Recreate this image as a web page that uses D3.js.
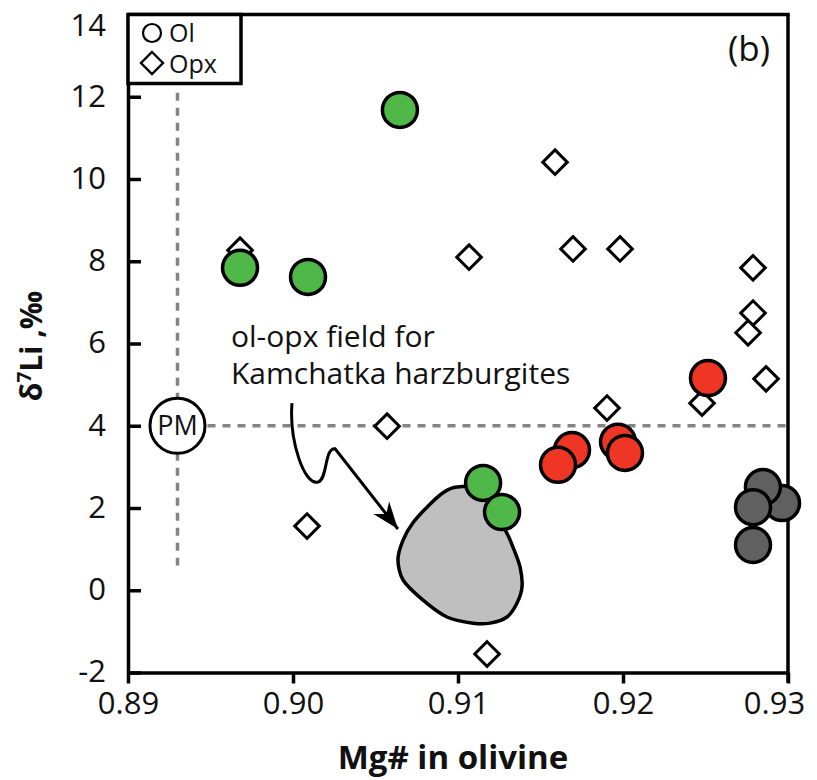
<!DOCTYPE html>
<html>
<head>
<meta charset="utf-8">
<script src="https://cdn.jsdelivr.net/npm/d3@7"></script>
<style>
  html, body { margin: 0; padding: 0; background: #fff; }
  svg { display: block; font-family: "Open Sans", "Noto Sans", sans-serif; }
</style>
</head>
<body>
<svg id="chart" width="817" height="780"></svg>
<script>
// ---------------- DATA ----------------
const xTickValues = [0.89, 0.90, 0.91, 0.92, 0.93];
const xTickLabels = ["0.89", "0.90", "0.91", "0.92", "0.93"];
const yTickValues = [-2, 0, 2, 4, 6, 8, 10, 12, 14];
const yTickLabels = ["-2", "0", "2", "4", "6", "8", "10", "12", "14"];

// Opx (open diamonds)
const opxMg   = [0.89679, 0.91067, 0.91588, 0.91697, 0.91982, 0.92788, 0.92788, 0.92758, 0.92867, 0.92479, 0.91903, 0.90570, 0.90085, 0.91176];
const opxLi   = [8.27,    8.10,    10.41,   8.30,    8.30,    7.84,    6.74,    6.26,    5.14,    4.55,    4.43,    3.99,    1.56,    -1.55];

// Ol — green group
const olGreenMg = [0.90648, 0.89679, 0.90091, 0.91152, 0.91267];
const olGreenLi = [11.68,   7.84,    7.62,    2.61,    1.90];
// Ol — red group
const olRedMg = [0.92515, 0.91691, 0.91606, 0.91970, 0.92012];
const olRedLi = [5.16,    3.41,    3.05,    3.61,    3.34];
// Ol — dark grey group
const olGreyMg = [0.92964, 0.92848, 0.92788, 0.92788];
const olGreyLi = [2.12,    2.51,    2.02,    1.10];

// Primitive mantle reference
const pmMg = 0.893, pmLi = 4.0;

// ol-opx field for Kamchatka harzburgites (outline, data units)
const fieldMg = [0.90994, 0.91121, 0.91285, 0.91333, 0.91376, 0.91388, 0.91358, 0.91297, 0.91194, 0.91091, 0.90933, 0.90788, 0.90667, 0.90636, 0.90667, 0.90727, 0.90812, 0.90909];
const fieldLi = [2.51,    2.44,    1.47,    1.05,    0.57,    0.08,    -0.31,   -0.65,   -0.80,   -0.80,   -0.65,   -0.24,   0.25,    0.74,    1.22,    1.64,    2.02,    2.37];

// Annotation arrow (data units)
const arrowMg = [0.89994, 0.89976, 0.90067, 0.90152, 0.90212, 0.90188, 0.90255, 0.90636];
const arrowLi = [4.55,    3.65,    2.54,    2.63,    2.71,    3.46,    3.44,    1.49];

// ---------------- CHART ----------------
const svg = d3.select("#chart");
const x = d3.scaleLinear().domain([0.89, 0.93]).range([128, 788]);
const y = d3.scaleLinear().domain([-2, 14]).range([672.5, 14.5]);

const axisW = 3.5;
const ink = "#111";

// defs: arrowhead
svg.append("defs").append("marker")
  .attr("id", "ah")
  .attr("markerUnits", "userSpaceOnUse")
  .attr("viewBox", "-30 -12 32 24")
  .attr("refX", 0).attr("refY", 0)
  .attr("markerWidth", 32).attr("markerHeight", 24)
  .attr("orient", "auto")
  .append("path")
  .attr("d", "M0,0 L-27,-10 L-19,0 L-27,10 Z")
  .attr("fill", "#000");

// Dashed reference lines
svg.append("line")
  .attr("x1", x(pmMg)).attr("x2", x(pmMg))
  .attr("y1", y(12.1)).attr("y2", y(0.6))
  .attr("stroke", "#848484").attr("stroke-width", 3.5)
  .attr("stroke-dasharray", "8,7");
svg.append("line")
  .attr("x1", x(pmMg)).attr("x2", x(0.93))
  .attr("y1", y(pmLi)).attr("y2", y(pmLi))
  .attr("stroke", "#848484").attr("stroke-width", 3.5)
  .attr("stroke-dasharray", "8,7");

// Field polygon
const fieldPts = fieldMg.map((m, i) => [x(m), y(fieldLi[i])]);
svg.append("path")
  .attr("d", d3.line().curve(d3.curveCardinalClosed.tension(0.2))(fieldPts))
  .attr("fill", "#bfbfbf").attr("stroke", "#000").attr("stroke-width", 3.5);

// Arrow
const ap = arrowMg.map((m, i) => [x(m), y(arrowLi[i])]);
svg.append("path")
  .attr("d", `M${ap[0]} C${ap[1]} ${ap[2]} ${ap[3]} C${ap[4]} ${ap[5]} ${ap[6]} L${ap[7]}`)
  .attr("fill", "none").attr("stroke", "#000").attr("stroke-width", 3)
  .attr("marker-end", "url(#ah)");

// Annotation text
const ann = svg.append("text").attr("font-size", 30).attr("fill", ink);
ann.append("tspan").attr("x", 231).attr("y", 347).text("ol-opx field for");
ann.append("tspan").attr("x", 231).attr("y", 384).text("Kamchatka harzburgites");

// Axes
const gx = svg.append("g").attr("transform", `translate(0,${y(-2)})`)
  .call(d3.axisBottom(x).tickValues(xTickValues).tickFormat((d, i) => xTickLabels[i]).tickSize(11).tickSizeOuter(0));
const gy = svg.append("g").attr("transform", `translate(${x(0.89)},0)`)
  .call(d3.axisLeft(y).tickValues(yTickValues).tickFormat((d, i) => yTickLabels[i]).tickSize(-13).tickSizeOuter(0));
[gx, gy].forEach(g => {
  g.select(".domain").attr("stroke", "#000").attr("stroke-width", axisW);
  g.selectAll(".tick line").attr("stroke", "#000").attr("stroke-width", axisW);
  g.selectAll(".tick text").attr("font-size", 31).attr("fill", ink)
    .attr("font-family", '"Open Sans", sans-serif');
});
gx.selectAll(".tick text").attr("dy", "0.95em").attr("y", 12)
  .attr("x", (d, i) => i === xTickValues.length - 1 ? -14 : 0);
gy.selectAll(".tick text").attr("x", -22)
  .attr("dy", (d, i) => i === yTickValues.length - 1 ? "0.68em" : "0.3em");
gx.selectAll(".tick line").attr("stroke-linecap", "butt");

// top and right frame
svg.append("line").attr("x1", x(0.89)).attr("x2", x(0.93) + axisW / 2)
  .attr("y1", y(14)).attr("y2", y(14)).attr("stroke", "#000").attr("stroke-width", axisW);
svg.append("line").attr("x1", x(0.93)).attr("x2", x(0.93))
  .attr("y1", y(14)).attr("y2", y(-2) + 10).attr("stroke", "#000").attr("stroke-width", axisW);

// Diamonds (opx)
const dsize = 12.3;
svg.append("g").selectAll("path").data(opxMg.map((m, i) => [m, opxLi[i]])).join("path")
  .attr("d", d => { const cx = x(d[0]), cy = y(d[1]);
    return `M${cx},${cy - dsize} L${cx + dsize},${cy} L${cx},${cy + dsize} L${cx - dsize},${cy} Z`; })
  .attr("fill", "#fff").attr("stroke", "#000").attr("stroke-width", 3);

// Circles (ol)
const groups = [
  {mg: olGreenMg, li: olGreenLi, color: "#50b848"},
  {mg: olRedMg, li: olRedLi, color: "#ef3524"},
  {mg: olGreyMg, li: olGreyLi, color: "#5f605f"}
];
groups.forEach(gp => {
  svg.append("g").selectAll("circle").data(gp.mg.map((m, i) => [m, gp.li[i]])).join("circle")
    .attr("cx", d => x(d[0])).attr("cy", d => y(d[1])).attr("r", 17.5)
    .attr("fill", gp.color).attr("stroke", "#000").attr("stroke-width", 3.5);
});

// PM marker
svg.append("circle").attr("cx", x(pmMg)).attr("cy", y(pmLi)).attr("r", 27.5)
  .attr("fill", "#fff").attr("stroke", "#000").attr("stroke-width", 3);
svg.append("text").attr("x", x(pmMg)).attr("y", y(pmLi)).attr("dy", "0.36em")
  .attr("text-anchor", "middle").attr("font-size", 27).attr("fill", ink).text("PM");

// Legend
svg.append("rect").attr("x", x(0.89)).attr("y", y(14)).attr("width", 113).attr("height", 69)
  .attr("fill", "#fff").attr("stroke", "#000").attr("stroke-width", axisW);
svg.append("circle").attr("cx", 152).attr("cy", 33).attr("r", 9)
  .attr("fill", "#fff").attr("stroke", "#000").attr("stroke-width", 2.2);
svg.append("path").attr("d", "M152,52 L163,63 L152,74 L141,63 Z")
  .attr("fill", "#fff").attr("stroke", "#000").attr("stroke-width", 2.4);
svg.append("text").attr("x", 169).attr("y", 33).attr("dy", "0.36em").attr("font-size", 25).attr("fill", ink).text("Ol");
svg.append("text").attr("x", 169).attr("y", 64).attr("dy", "0.36em").attr("font-size", 25).attr("fill", ink).text("Opx");

// (b)
svg.append("text").attr("x", 770).attr("y", 61).attr("text-anchor", "end")
  .attr("font-size", 35).attr("fill", ink).text("(b)");

// Axis titles
svg.append("text").attr("x", (x(0.89) + x(0.93)) / 2 - 5).attr("y", 769)
  .attr("text-anchor", "middle").attr("font-size", 33).attr("font-weight", "bold")
  .attr("fill", ink).text("Mg# in olivine");

const yt = svg.append("text").attr("transform", "translate(42,346) rotate(-90)")
  .attr("text-anchor", "middle").attr("font-size", 30).attr("font-weight", "bold").attr("fill", ink);
yt.append("tspan").text("δ");
yt.append("tspan").attr("font-size", 19).attr("dy", -11).text("7");
yt.append("tspan").attr("dy", 11).text("Li ,‰");
</script>
</body>
</html>
